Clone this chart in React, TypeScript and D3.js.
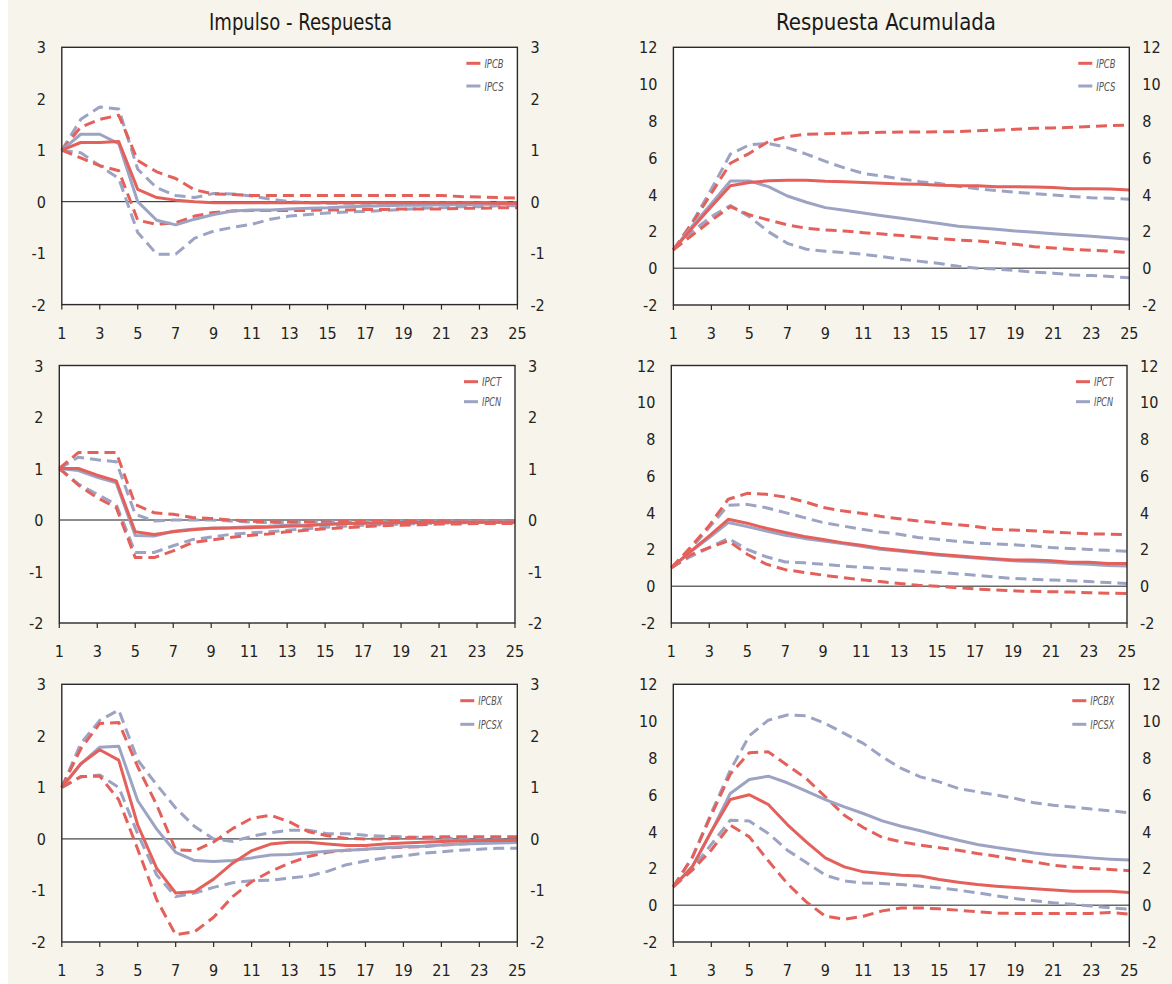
import React, { useEffect, useRef } from 'react';
import * as d3 from 'd3';

const periods = [1, 2, 3, 4, 5, 6, 7, 8, 9, 10, 11, 12, 13, 14, 15, 16, 17, 18, 19, 20, 21, 22, 23, 24, 25];
const xTicks = [1, 3, 5, 7, 9, 11, 13, 15, 17, 19, 21, 23, 25];
const irTicks = [-2, -1, 0, 1, 2, 3];
const accTicks = [-2, 0, 2, 4, 6, 8, 10, 12];
const titles = ['Impulso - Respuesta', 'Respuesta Acumulada'];

// Row 1: IPCB / IPCS
const ipcbIR = [1.0, 1.15, 1.15, 1.17, 0.24, 0.08, 0.03, 0.0, -0.02, -0.02, -0.02, -0.02, -0.02, -0.02, -0.02, -0.02, -0.02, -0.02, -0.02, -0.02, -0.02, -0.02, -0.02, -0.03, -0.03];
const ipcbIRUp = [1.0, 1.45, 1.6, 1.68, 0.8, 0.58, 0.45, 0.23, 0.15, 0.14, 0.12, 0.12, 0.12, 0.12, 0.12, 0.12, 0.12, 0.12, 0.12, 0.12, 0.12, 0.1, 0.09, 0.08, 0.07];
const ipcbIRLo = [1.0, 0.85, 0.7, 0.6, -0.36, -0.44, -0.41, -0.28, -0.21, -0.18, -0.17, -0.17, -0.17, -0.17, -0.16, -0.16, -0.15, -0.15, -0.14, -0.14, -0.14, -0.13, -0.13, -0.12, -0.12];
const ipcsIR = [1.0, 1.31, 1.31, 1.13, 0.0, -0.36, -0.45, -0.34, -0.25, -0.18, -0.16, -0.16, -0.14, -0.13, -0.12, -0.1, -0.09, -0.08, -0.07, -0.07, -0.06, -0.06, -0.05, -0.05, -0.05];
const ipcsIRUp = [1.0, 1.6, 1.84, 1.8, 0.63, 0.27, 0.12, 0.08, 0.16, 0.15, 0.11, 0.05, 0.0, -0.02, -0.03, -0.03, -0.03, -0.03, -0.03, -0.03, -0.02, -0.02, -0.02, -0.02, -0.02];
const ipcsIRLo = [1.0, 0.95, 0.7, 0.45, -0.6, -1.02, -1.02, -0.71, -0.57, -0.5, -0.44, -0.34, -0.28, -0.25, -0.22, -0.2, -0.19, -0.17, -0.15, -0.13, -0.12, -0.1, -0.1, -0.08, -0.08];

const ipcbAcc = [1.0, 2.2, 3.35, 4.48, 4.65, 4.75, 4.78, 4.78, 4.72, 4.7, 4.65, 4.62, 4.58, 4.56, 4.5, 4.48, 4.48, 4.43, 4.43, 4.41, 4.38, 4.32, 4.32, 4.3, 4.25];
const ipcbAccUp = [1.0, 2.45, 4.07, 5.7, 6.24, 6.88, 7.15, 7.28, 7.3, 7.33, 7.36, 7.38, 7.4, 7.4, 7.41, 7.42, 7.47, 7.5, 7.55, 7.6, 7.62, 7.65, 7.7, 7.75, 7.78];
const ipcbAccLo = [1.0, 1.8, 2.6, 3.34, 2.9, 2.62, 2.35, 2.17, 2.08, 2.02, 1.93, 1.86, 1.77, 1.68, 1.6, 1.53, 1.48, 1.39, 1.3, 1.17, 1.1, 1.02, 0.98, 0.92, 0.84];
const ipcsAcc = [1.0, 2.3, 3.5, 4.74, 4.74, 4.43, 3.92, 3.58, 3.29, 3.15, 3.0, 2.85, 2.71, 2.57, 2.43, 2.28, 2.2, 2.12, 2.02, 1.95, 1.87, 1.8, 1.73, 1.65, 1.57];
const ipcsAccUp = [1.0, 2.5, 4.3, 6.2, 6.7, 6.78, 6.55, 6.2, 5.8, 5.45, 5.15, 5.0, 4.85, 4.7, 4.6, 4.45, 4.32, 4.22, 4.12, 4.05, 3.97, 3.9, 3.82, 3.8, 3.74];
const ipcsAccLo = [1.0, 2.0, 2.8, 3.4, 2.8, 1.98, 1.35, 1.03, 0.92, 0.85, 0.75, 0.63, 0.48, 0.37, 0.26, 0.1, 0.0, -0.05, -0.12, -0.22, -0.27, -0.37, -0.4, -0.45, -0.52];

// Row 2: IPCT / IPCN
const ipctIR = [1.0, 1.0, 0.87, 0.76, -0.23, -0.28, -0.23, -0.19, -0.16, -0.155, -0.15, -0.14, -0.12, -0.11, -0.085, -0.07, -0.065, -0.06, -0.05, -0.05, -0.045, -0.045, -0.045, -0.045, -0.045];
const ipctIRUp = [1.0, 1.31, 1.31, 1.31, 0.3, 0.14, 0.11, 0.05, 0.03, 0.0, -0.02, -0.04, -0.04, -0.04, -0.04, -0.03, -0.03, -0.03, -0.02, -0.02, -0.02, -0.02, -0.02, -0.02, -0.02];
const ipctIRLo = [1.0, 0.68, 0.43, 0.24, -0.73, -0.73, -0.6, -0.44, -0.39, -0.34, -0.3, -0.27, -0.23, -0.2, -0.17, -0.15, -0.13, -0.11, -0.1, -0.09, -0.08, -0.08, -0.07, -0.07, -0.07];
const ipcnIR = [1.0, 0.96, 0.83, 0.72, -0.3, -0.31, -0.22, -0.18, -0.16, -0.15, -0.13, -0.12, -0.1, -0.1, -0.08, -0.07, -0.06, -0.06, -0.05, -0.05, -0.05, -0.04, -0.04, -0.04, -0.04];
const ipcnIRUp = [1.0, 1.22, 1.17, 1.13, 0.11, -0.02, 0.0, 0.0, 0.0, -0.02, -0.04, -0.05, -0.05, -0.04, -0.04, -0.03, -0.03, -0.03, -0.02, -0.02, -0.02, -0.02, -0.02, -0.02, -0.02];
const ipcnIRLo = [1.0, 0.7, 0.5, 0.3, -0.63, -0.63, -0.5, -0.38, -0.33, -0.28, -0.25, -0.23, -0.2, -0.17, -0.14, -0.12, -0.1, -0.09, -0.08, -0.07, -0.06, -0.06, -0.05, -0.05, -0.05];

const ipctAcc = [1.0, 1.88, 2.74, 3.64, 3.42, 3.15, 2.92, 2.7, 2.54, 2.37, 2.23, 2.07, 1.96, 1.85, 1.74, 1.65, 1.58, 1.5, 1.43, 1.43, 1.38, 1.3, 1.3, 1.23, 1.23];
const ipctAccUp = [1.0, 2.1, 3.3, 4.73, 5.05, 5.0, 4.85, 4.6, 4.28, 4.1, 3.97, 3.8, 3.67, 3.55, 3.45, 3.35, 3.25, 3.1, 3.05, 3.02, 2.95, 2.9, 2.85, 2.83, 2.8];
const ipctAccLo = [1.0, 1.7, 2.1, 2.46, 1.74, 1.2, 0.9, 0.75, 0.6, 0.47, 0.35, 0.25, 0.15, 0.05, 0.0, -0.08, -0.15, -0.2, -0.25, -0.28, -0.3, -0.32, -0.35, -0.38, -0.4];
const ipcnAcc = [1.0, 1.85, 2.65, 3.46, 3.24, 3.0, 2.77, 2.6, 2.46, 2.32, 2.17, 2.01, 1.92, 1.81, 1.7, 1.61, 1.54, 1.45, 1.38, 1.34, 1.3, 1.23, 1.2, 1.12, 1.1];
const ipcnAccUp = [1.0, 2.0, 3.2, 4.4, 4.45, 4.27, 4.0, 3.73, 3.46, 3.28, 3.1, 2.95, 2.83, 2.65, 2.55, 2.45, 2.35, 2.3, 2.25, 2.2, 2.1, 2.05, 2.0, 1.95, 1.9];
const ipcnAccLo = [1.0, 1.6, 2.1, 2.6, 2.0, 1.6, 1.32, 1.27, 1.2, 1.1, 1.03, 0.97, 0.9, 0.83, 0.76, 0.68, 0.6, 0.5, 0.42, 0.38, 0.34, 0.3, 0.25, 0.2, 0.15];

// Row 3: IPCBX / IPCSX
const ipcbxIR = [1.0, 1.46, 1.73, 1.53, 0.27, -0.57, -1.05, -1.02, -0.78, -0.47, -0.23, -0.1, -0.065, -0.065, -0.1, -0.13, -0.13, -0.1, -0.08, -0.065, -0.05, -0.04, -0.03, -0.03, -0.03];
const ipcbxIRUp = [1.0, 1.75, 2.24, 2.26, 1.4, 0.66, -0.21, -0.23, -0.06, 0.2, 0.4, 0.46, 0.33, 0.14, 0.06, 0.01, 0.0, 0.0, 0.02, 0.03, 0.04, 0.04, 0.04, 0.04, 0.04];
const ipcbxIRLo = [1.0, 1.21, 1.22, 0.76, -0.2, -1.18, -1.86, -1.8, -1.52, -1.12, -0.83, -0.63, -0.47, -0.34, -0.26, -0.22, -0.2, -0.18, -0.16, -0.15, -0.12, -0.1, -0.08, -0.06, -0.05];
const ipcsxIR = [1.0, 1.45, 1.78, 1.8, 0.74, 0.19, -0.26, -0.42, -0.44, -0.42, -0.37, -0.31, -0.3, -0.27, -0.24, -0.22, -0.2, -0.17, -0.15, -0.14, -0.12, -0.1, -0.09, -0.08, -0.07];
const ipcsxIRUp = [1.0, 1.85, 2.3, 2.5, 1.53, 1.05, 0.6, 0.24, 0.0, -0.05, 0.05, 0.12, 0.17, 0.17, 0.1, 0.1, 0.07, 0.05, 0.04, 0.03, 0.02, 0.0, -0.01, -0.02, -0.03];
const ipcsxIRLo = [1.0, 1.2, 1.24, 1.0, 0.1, -0.7, -1.12, -1.05, -0.94, -0.85, -0.81, -0.8, -0.76, -0.72, -0.63, -0.5, -0.43, -0.37, -0.33, -0.28, -0.25, -0.22, -0.2, -0.18, -0.18];

const ipcbxAcc = [1.0, 2.08, 4.0, 5.74, 6.0, 5.47, 4.38, 3.44, 2.57, 2.08, 1.81, 1.72, 1.63, 1.58, 1.4, 1.25, 1.12, 1.03, 0.96, 0.89, 0.82, 0.76, 0.76, 0.76, 0.69];
const ipcbxAccUp = [1.0, 2.6, 4.9, 7.12, 8.28, 8.33, 7.6, 6.88, 5.89, 4.89, 4.22, 3.68, 3.44, 3.26, 3.12, 2.99, 2.81, 2.66, 2.48, 2.34, 2.17, 2.08, 1.99, 1.94, 1.87];
const ipcbxAccLo = [1.0, 1.9, 3.0, 4.35, 3.71, 2.41, 1.18, 0.18, -0.6, -0.76, -0.6, -0.31, -0.15, -0.15, -0.2, -0.27, -0.36, -0.43, -0.45, -0.45, -0.45, -0.45, -0.45, -0.4, -0.49];
const ipcsxAcc = [1.0, 2.1, 4.0, 6.07, 6.83, 7.01, 6.65, 6.2, 5.74, 5.34, 4.98, 4.58, 4.29, 4.04, 3.77, 3.53, 3.3, 3.13, 2.99, 2.84, 2.72, 2.66, 2.57, 2.5, 2.45];
const ipcsxAccUp = [1.0, 2.6, 5.0, 7.34, 9.2, 10.05, 10.33, 10.29, 9.87, 9.33, 8.79, 8.06, 7.43, 6.97, 6.7, 6.34, 6.16, 5.98, 5.8, 5.56, 5.43, 5.34, 5.22, 5.13, 5.02];
const ipcsxAccLo = [1.0, 2.0, 3.3, 4.62, 4.57, 3.9, 2.99, 2.32, 1.63, 1.32, 1.21, 1.18, 1.12, 1.03, 0.94, 0.82, 0.67, 0.51, 0.36, 0.24, 0.13, 0.05, -0.05, -0.14, -0.22];

const RED = '#e4605a';
const BLUE = '#9ca3c3';
const CREAM = '#f7f4eb';
const FONT = "'Liberation Sans Narrow', 'DejaVu Sans Condensed', 'Open Sans', sans-serif";

const panels = [
  { left: 61.8, right: 517.4, top: 47.3, bottom: 304.6, domain: [-2, 3], ticks: irTicks, acc: false, names: ['IPCB', 'IPCS'], legY: [16, 38.7], red: [ipcbIR, ipcbIRUp, ipcbIRLo], blue: [ipcsIR, ipcsIRUp, ipcsIRLo] },
  { left: 673.4, right: 1129.3, top: 47.3, bottom: 305, domain: [-2, 12], ticks: accTicks, acc: true, names: ['IPCB', 'IPCS'], legY: [16, 38.7], red: [ipcbAcc, ipcbAccUp, ipcbAccLo], blue: [ipcsAcc, ipcsAccUp, ipcsAccLo] },
  { left: 59.3, right: 515, top: 365.5, bottom: 623, domain: [-2, 3], ticks: irTicks, acc: false, names: ['IPCT', 'IPCN'], legY: [16.2, 36.2], red: [ipctIR, ipctIRUp, ipctIRLo], blue: [ipcnIR, ipcnIRUp, ipcnIRLo] },
  { left: 671.3, right: 1127, top: 365.5, bottom: 623, domain: [-2, 12], ticks: accTicks, acc: true, names: ['IPCT', 'IPCN'], legY: [16.2, 36.2], red: [ipctAcc, ipctAccUp, ipctAccLo], blue: [ipcnAcc, ipcnAccUp, ipcnAccLo] },
  { left: 61.8, right: 517.3, top: 684.3, bottom: 942, domain: [-2, 3], ticks: irTicks, acc: false, names: ['IPCBX', 'IPCSX'], legY: [16.4, 40], red: [ipcbxIR, ipcbxIRUp, ipcbxIRLo], blue: [ipcsxIR, ipcsxIRUp, ipcsxIRLo] },
  { left: 673.3, right: 1129.3, top: 684.3, bottom: 942, domain: [-2, 12], ticks: accTicks, acc: true, names: ['IPCBX', 'IPCSX'], legY: [16.4, 40], red: [ipcbxAcc, ipcbxAccUp, ipcbxAccLo], blue: [ipcsxAcc, ipcsxAccUp, ipcsxAccLo] },
];

const App = () => {
  const ref = useRef<SVGSVGElement | null>(null);

  useEffect(() => {
    document.body.style.margin = '0';
    const svg = d3.select(ref.current);
    svg.selectAll('*').remove();

    svg.append('rect').attr('x', 0).attr('y', 0).attr('width', 1172).attr('height', 984).attr('fill', '#fff');
    svg.append('rect').attr('x', 8).attr('y', 0).attr('width', 1164).attr('height', 984).attr('fill', CREAM);

    // Column titles
    [[300.5, titles[0], 183], [886, titles[1], 220]].forEach(([cx, t, len]) => {
      svg.append('text')
        .attr('x', cx as number)
        .attr('y', 30)
        .attr('text-anchor', 'middle')
        .attr('textLength', len as number)
        .attr('lengthAdjust', 'spacingAndGlyphs')
        .style('font-family', FONT)
        .style('font-size', '23px')
        .style('fill', '#1a1a1a')
        .text(t as string);
    });

    panels.forEach(p => {
      const x = d3.scaleLinear().domain([1, 25]).range([p.left, p.right]);
      const y = d3.scaleLinear().domain(p.domain).range([p.bottom, p.top]);
      const g = svg.append('g');

      g.append('rect')
        .attr('x', p.left).attr('y', p.top)
        .attr('width', p.right - p.left).attr('height', p.bottom - p.top)
        .attr('fill', '#fff');

      // zero line
      g.append('line')
        .attr('x1', p.left).attr('x2', p.right)
        .attr('y1', y(0)).attr('y2', y(0))
        .attr('stroke', p.acc ? '#6a6a6a' : '#1a1a1a')
        .attr('stroke-width', p.acc ? 1.4 : 1);

      const line = d3.line<number>()
        .x((_, i) => x(periods[i]))
        .y(d => y(d));

      const drawSeries = (vals: number[], color: string, dashed: boolean) => {
        g.append('path')
          .datum(vals)
          .attr('fill', 'none')
          .attr('stroke', color)
          .attr('stroke-width', 3)
          .attr('stroke-dasharray', dashed ? '11,6' : null)
          .attr('stroke-linejoin', 'round')
          .attr('d', line);
      };

      drawSeries(p.blue[1], BLUE, true);
      drawSeries(p.blue[2], BLUE, true);
      drawSeries(p.red[1], RED, true);
      drawSeries(p.red[2], RED, true);
      drawSeries(p.blue[0], BLUE, false);
      drawSeries(p.red[0], RED, false);

      // frame
      g.append('rect')
        .attr('x', p.left).attr('y', p.top)
        .attr('width', p.right - p.left).attr('height', p.bottom - p.top)
        .attr('fill', 'none')
        .attr('stroke', '#2a2a2a')
        .attr('stroke-width', 1.4);

      // x axis ticks + labels
      xTicks.forEach(t => {
        g.append('line')
          .attr('x1', x(t)).attr('x2', x(t))
          .attr('y1', p.bottom).attr('y2', p.bottom + 5)
          .attr('stroke', '#2a2a2a').attr('stroke-width', 1.2);
        g.append('text')
          .attr('x', x(t)).attr('y', p.bottom + 34)
          .attr('text-anchor', 'middle')
          .style('font-family', FONT)
          .style('font-size', '16px')
          .style('fill', '#222')
          .text(t);
      });

      // y labels both sides
      p.ticks.forEach(t => {
        g.append('text')
          .attr('x', p.left - 16).attr('y', y(t) + 6)
          .attr('text-anchor', 'end')
          .style('font-family', FONT)
          .style('font-size', '16px')
          .style('fill', '#222')
          .text(t);
        g.append('text')
          .attr('x', p.right + 13).attr('y', y(t) + 6)
          .attr('text-anchor', 'start')
          .style('font-family', FONT)
          .style('font-size', '16px')
          .style('fill', '#222')
          .text(t);
      });

      // legend
      const long = p.names[0].length > 4;
      const textX = p.right - (long ? 39 : 33);
      p.names.forEach((name, i) => {
        const ly = p.top + p.legY[i];
        g.append('line')
          .attr('x1', textX - 18).attr('x2', textX - 4)
          .attr('y1', ly).attr('y2', ly)
          .attr('stroke', i === 0 ? RED : BLUE)
          .attr('stroke-width', 3);
        g.append('text')
          .attr('x', textX).attr('y', ly + 4.5)
          .attr('textLength', name.length * 4.8)
          .attr('lengthAdjust', 'spacingAndGlyphs')
          .style('font-family', FONT)
          .style('font-style', 'italic')
          .style('font-size', '13px')
          .style('fill', '#555')
          .text(name);
      });
    });
  }, []);

  return <svg ref={ref} width={1172} height={984} style={{ display: 'block' }} />;
};

export default App;
